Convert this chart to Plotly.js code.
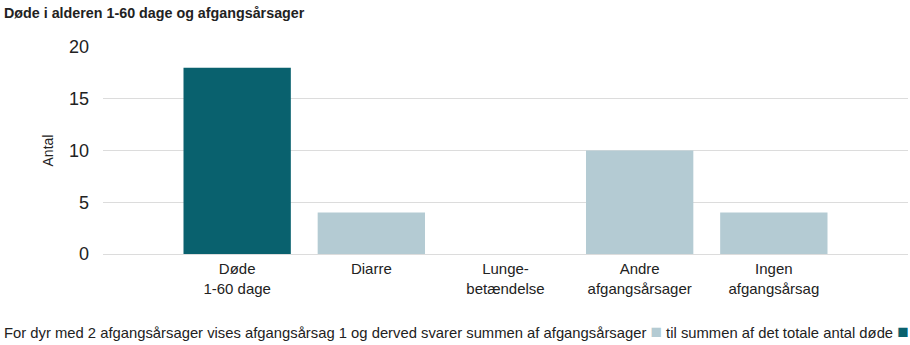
<!DOCTYPE html>
<html><head><meta charset="utf-8">
<script src="https://cdn.plot.ly/plotly-3.0.1.min.js"></script>
<style>html,body{margin:0;padding:0;background:#fff;}#chart{width:910px;height:345px;}</style>
</head><body><div id="chart"></div>
<script>
const categories = ["Døde<br>1-60 dage", "Diarre", "Lunge-<br>betændelse", "Andre<br>afgangsårsager", "Ingen<br>afgangsårsag"];
const values = [18, 4, 0, 10, 4];
const barColors = ["#09616e", "#b4cbd3", "#b4cbd3", "#b4cbd3", "#b4cbd3"];
const yTicks = [0, 5, 10, 15, 20];
const titleText = "Døde i alderen 1-60 dage og afgangsårsager";
const yTitle = "Antal";
const footerText = "For dyr med 2 afgangsårsager vises afgangsårsag 1 og derved svarer summen af afgangsårsager <span style='color:#b4cbd3;font-size:19px'>■</span> til summen af det totale antal døde <span style='color:#09616e;font-size:19px'>■</span>";

const font = "Liberation Sans, Arial, sans-serif";
Plotly.newPlot("chart", [{
  type: "bar",
  x: categories,
  y: values,
  marker: {color: barColors},
  width: 0.8,
  hoverinfo: "x+y"
}], {
  width: 910, height: 345,
  margin: {l: 103, r: 2, t: 47, b: 91, pad: 0},
  paper_bgcolor: "#fff", plot_bgcolor: "#fff",
  font: {family: font, color: "#222", size: 12},
  showlegend: false,
  xaxis: {
    type: "category",
    range: [-1, 5],
    showgrid: false, zeroline: false, showline: false,
    ticks: "", tickfont: {size: 15, color: "#222"},
    ticklabelstandoff: 4,
    fixedrange: true
  },
  yaxis: {
    range: [0, 20],
    tickvals: yTicks,
    showgrid: true, gridcolor: "#dcdcdc", gridwidth: 1,
    zeroline: true, zerolinecolor: "#dcdcdc", zerolinewidth: 1,
    showline: false, ticks: "",
    ticklabelstandoff: 13,
    tickfont: {size: 18, color: "#222"},
    title: {text: yTitle, font: {size: 14, color: "#222"}, standoff: 12},
    fixedrange: true
  },
  annotations: [
    {text: "<b>" + titleText + "</b>", xref: "paper", yref: "paper", x: 0, xanchor: "left", y: 1, yanchor: "bottom",
     xshift: -101, yshift: 24, showarrow: false, font: {size: 14.3, color: "#222"}},
    {text: footerText, xref: "paper", yref: "paper", x: 0, xanchor: "left", y: 0, yanchor: "middle",
     xshift: -101, yshift: -77, showarrow: false, font: {size: 14.8, color: "#222"}}
  ]
}, {displayModeBar: false, staticPlot: true});
</script></body></html>
